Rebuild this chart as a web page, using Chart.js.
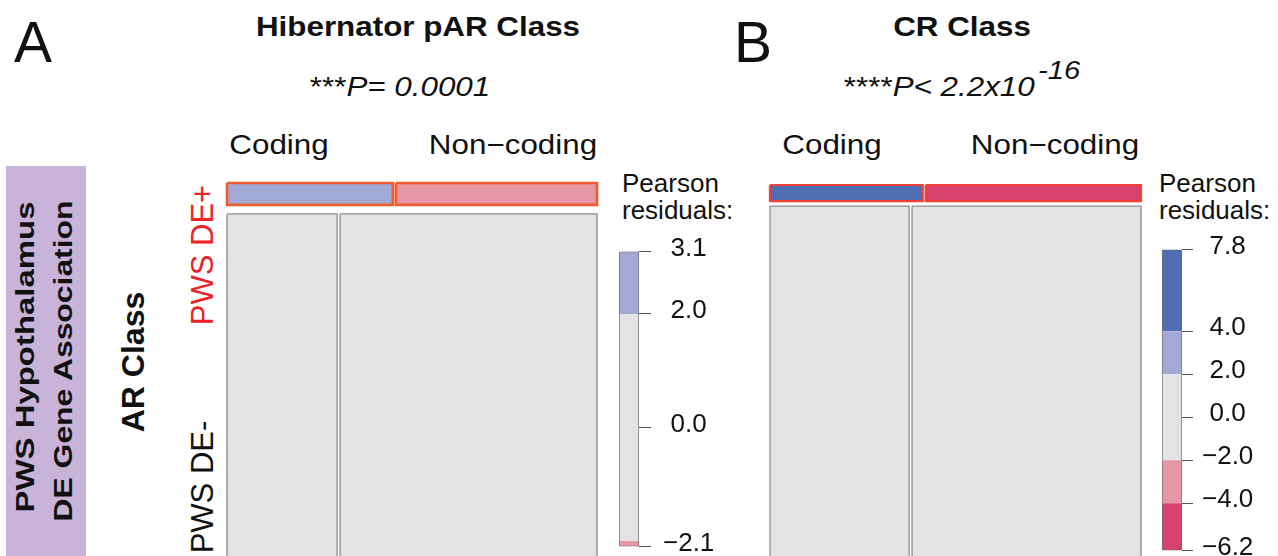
<!DOCTYPE html>
<html>
<head>
<meta charset="utf-8">
<script src="https://cdn.jsdelivr.net/npm/chart.js@4.4.1/dist/chart.umd.min.js"></script>
<style>
  html, body { margin: 0; padding: 0; background: #fff; overflow: hidden; }
  #wrap { position: relative; width: 1278px; height: 556px; overflow: hidden;
          font-family: "Liberation Sans", Arial, Helvetica, sans-serif; color: #111; }
  canvas { position: absolute; }
  .t { position: absolute; white-space: nowrap; line-height: 1; }
  .c { transform: translateX(-50%) scaleX(1.12); }
  .l { transform-origin: 0 0; transform: scaleX(1.04); }
  .rot { transform: translate(-50%, -50%) rotate(-90deg); }
  #sideBox { position: absolute; left: 6px; top: 166px; width: 80px; height: 420px; background: #c9b4d9; }
</style>
</head>
<body>
<div id="wrap">
  <div id="sideBox"></div>
  <div class="t" style="left:25px;top:357px;font-size:26px;font-weight:bold;transform:translate(-50%,-50%) rotate(-90deg) scaleX(1.266);">PWS Hypothalamus</div>
  <div class="t" style="left:63px;top:361px;font-size:26px;font-weight:bold;transform:translate(-50%,-50%) rotate(-90deg) scaleX(1.225);">DE Gene Association</div>
  <div class="t rot" style="left:132.5px;top:362px;font-size:32px;font-weight:bold;">AR Class</div>
  <div class="t rot" id="rowTop" style="left:201.7px;top:255px;font-size:31px;color:#ec2227;"></div>
  <div class="t rot" id="rowBot" style="left:201.7px;top:486.5px;font-size:31px;"></div>

  <div class="t" style="left:14px;top:14.3px;font-size:57px;">A</div>
  <div class="t" style="left:734px;top:14.3px;font-size:57px;">B</div>

  <div class="t c" style="left:417.5px;top:13px;font-size:28px;font-weight:bold;">Hibernator pAR Class</div>
  <div class="t c" style="left:400px;top:73px;font-size:28px;">***<i>P= 0.0001</i></div>
  <div class="t c" style="left:962px;top:13px;font-size:28px;font-weight:bold;">CR Class</div>
  <div class="t c" style="left:962px;top:73px;font-size:28px;">****<i>P&lt; 2.2x10</i><i style="position:relative;top:-17px;font-size:26px;margin-left:3px;">-16</i></div>

  <div class="t c" id="colA0" style="left:279px;top:131px;font-size:28px;"></div>
  <div class="t c" id="colA1" style="left:512.5px;top:131px;font-size:28px;"></div>
  <div class="t c" id="colB0" style="left:831.5px;top:131px;font-size:28px;"></div>
  <div class="t c" id="colB1" style="left:1055px;top:131px;font-size:28px;"></div>

  <div class="t l" style="left:622px;top:171px;font-size:25px;">Pearson</div>
  <div class="t l" style="left:622px;top:198px;font-size:25px;">residuals:</div>
  <div class="t l" style="left:1159px;top:171px;font-size:25px;">Pearson</div>
  <div class="t l" style="left:1159px;top:198px;font-size:25px;">residuals:</div>

  <canvas id="mosaicA" width="390" height="400" style="left:217px;top:173px;"></canvas>
  <canvas id="legendA" width="110" height="350" style="left:619px;top:224px;"></canvas>
  <canvas id="mosaicB" width="391" height="400" style="left:760px;top:175px;"></canvas>
  <canvas id="legendB" width="110" height="350" style="left:1162px;top:225px;"></canvas>
</div>
<script>
// categories
const colLabels = ["Coding", "Non\u2212coding"];
const rowLabels = ["PWS DE+", "PWS DE-"];
const residBreaks = [-4, -2, 2, 4];

// panel A - Hibernator pAR class (row shares, coding share within each row)
const rowShareA = [0.06, 0.94];
const codingShareA = [0.452, 0.30];
const residA = [[3.1, -2.1], [-0.8, 0.5]];
const legendTicksA = [3.1, 2.0, 0.0, -2.1];

// panel B - CR class
const rowShareB = [0.044, 0.956];
const codingShareB = [0.415, 0.378];
const residB = [[7.8, -6.2], [-1.8, 1.4]];
const legendTicksB = [7.8, 4.0, 2.0, 0.0, -2.0, -4.0, -6.2];

Chart.defaults.font.family = '"Liberation Sans", Arial, Helvetica, sans-serif';

document.getElementById("rowTop").textContent = rowLabels[0];
document.getElementById("rowBot").textContent = rowLabels[1];
["colA", "colB"].forEach(p => {
  document.getElementById(p + "0").textContent = colLabels[0];
  document.getElementById(p + "1").textContent = colLabels[1];
});

function shade(r) {
  if (r >= 4) return "#4f6db3";
  if (r >= 2) return "#a3a9d5";
  if (r <= -4) return "#d6416d";
  if (r <= -2) return "#e796a6";
  return "#e2e3e5";
}

function fmt(v) {
  return v.toFixed(1).replace("-", "\u2212");
}

function mosaic(id, rowShare, codingShare, resid, gapY, hiColor, hiWidth, pad) {
  const gapX = 0.008;
  const datasets = [];
  let y0 = 0;
  rowShare.forEach((h, i) => {
    const y1 = y0 + h;
    const spans = [[0, codingShare[i]], [codingShare[i] + gapX, 1 + gapX]];
    spans.forEach(([x0, x1], j) => {
      const first = i === 0;
      datasets.push({
        data: [{x: x0, y: y0}, {x: x1, y: y0}, {x: x1, y: y1}, {x: x0, y: y1}, {x: x0, y: y0}],
        backgroundColor: shade(resid[i][j]),
        borderColor: first ? hiColor : "#8e8e8e",
        borderWidth: first ? hiWidth : 1.3,
        fill: "shape",
        pointRadius: 0,
        tension: 0,
        clip: 4
      });
    });
    y0 = y1 + gapY;
  });
  new Chart(document.getElementById(id), {
    type: "line",
    data: { datasets },
    options: {
      responsive: false, animation: false,
      layout: { padding: pad },
      plugins: { legend: { display: false }, tooltip: { enabled: false } },
      scales: {
        x: { type: "linear", min: 0, max: 1 + gapX, display: false },
        y: { type: "linear", min: 0, max: 1 + gapY, reverse: true, display: false }
      }
    }
  });
}

function legendBar(id, tickVals, tickLen, tickPad) {
  const lo = Math.min(...tickVals), hi = Math.max(...tickVals);
  const edges = [lo, ...residBreaks.filter(b => b > lo && b < hi), hi];
  const datasets = [];
  for (let k = 0; k < edges.length - 1; k++) {
    datasets.push({
      data: [[edges[k], edges[k + 1]]],
      backgroundColor: shade((edges[k] + edges[k + 1]) / 2),
      borderColor: "#6e6e6e",
      borderWidth: { left: 1, right: 1, top: k === edges.length - 2 ? 1 : 0, bottom: k === 0 ? 1 : 0 },
      borderSkipped: false,
      grouped: false, barPercentage: 1, categoryPercentage: 1
    });
  }
  new Chart(document.getElementById(id), {
    type: "bar",
    data: { labels: [""], datasets },
    options: {
      responsive: false, animation: false,
      layout: { padding: { top: 20, bottom: 20, left: 0, right: 0 } },
      plugins: { legend: { display: false }, tooltip: { enabled: false } },
      scales: {
        x: { display: false },
        y: {
          type: "linear", position: "right", min: lo, max: hi,
          afterBuildTicks: s => { s.ticks = tickVals.map(v => ({ value: v })); },
          afterFit: s => { s.width = 90; },
          grid: { drawOnChartArea: false, drawTicks: true, tickLength: tickLen, color: "#555", tickColor: "#555" },
          border: { display: false },
          ticks: { autoSkip: false, crossAlign: "center", padding: tickPad, color: "#111",
                   labelOffset: -3, font: { size: 26 }, callback: v => fmt(v) }
        }
      }
    }
  });
}

mosaic("mosaicA", rowShareA, codingShareA, residA, 0.0247, "#f15a2b", 2.6,
       { left: 10, top: 10, right: 10, bottom: 16 });
mosaic("mosaicB", rowShareB, codingShareB, residB, 0.0136, "#ee4138", 2.2,
       { left: 10, top: 10, right: 10, bottom: 18 });
legendBar("legendA", legendTicksA, 12, 12);
legendBar("legendB", legendTicksB, 11, 9);
</script>
</body>
</html>
